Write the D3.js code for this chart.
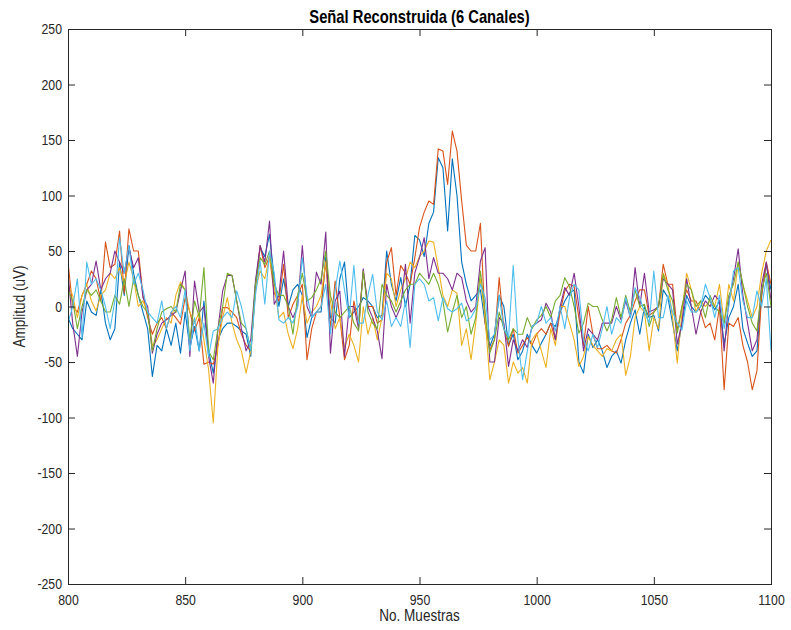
<!DOCTYPE html>
<html>
<head>
<meta charset="utf-8">
<title>Señal Reconstruida</title>
<script src="https://cdn.jsdelivr.net/npm/d3@7"></script>
<style>
    body { margin: 0; background: #ffffff; }
    text { font-family: "Liberation Sans", Arial, sans-serif; }
</style>
</head>
<body>
<svg id="chart" width="791" height="630"></svg>
<script>
/*globals d3*/

// Muestras 800..1100, una cada dos
var muestras = d3.range(800, 1101, 2);

var canal1 = [
    -10, -20, -25, -30, 5, -5, -8, 15, -15, -30,
    -20, 40, 10, 55, 30, 10, -5, -20, -63, -35,
    -40, -20, -35, -15, -42, -5, -37, -18, -40, 5,
    -40, -60, -30, -20, -15, -15, -18, -22, -25, -45,
    20, 53, 45, 65, 25, 0, 25, 0, 15, 20,
    10, -28, -10, -5, -5, 45, -10, -15, 25, 40,
    -10, -5, 0, 8, 5, 0, -10, -8, 50, 20,
    5, 26, 0, 20, 64, 60, 45, 75, 85, 134,
    125, 68, 133, 100, 40, 20, 5, 10, 15, -15,
    -36, -25, 10, 0, -35, -25, -48, -40, -25, -35,
    -42, -33, -25, -15, -18, -5, 5, 12, 15, -50,
    -60, -25, -37, -30, -40, -55, -45, -40, -51, -30,
    -15, -3, -25, 0, -10, -8, -22, 15, 8, -15,
    -40, -15, 10, 0, -5, 0, 10, 5, -3, 5,
    -34, -10, 0, 20, -20, -33, -45, -40, 10, 38,
    15
];

var canal2 = [
    40, 0, -5, 10, 20, 32, 25, 5, 58, 35,
    38, 68, 12, 70, 50, 50, 10, -10, -25, -15,
    -10, -20, -5, -10, -16, 8, -5, -22, -10, -52,
    -50, -52, -35, -1, -1, -5, -10, -25, -35, -40,
    15, 55, 35, 45, 12, 5, 38, -10, 2, 10,
    20, -48, -20, -5, 0, 41, -20, 23, -10, -48,
    -35, 5, -15, 32, 0, 0, -15, -12, 40, 53,
    10, 37, 30, 20, 44, 71, 85, 95, 92, 142,
    140, 110, 158, 140, 95, 55, 50, 50, 75, -15,
    -39, -30, 26, -20, -36, -20, -42, -35, -28, -35,
    -25, -20, -25, -15, -30, -5, 14, 20, 18, -10,
    -35, 0, -25, -38, -38, -35, -40, -42, -30, -15,
    -8, 5, 15, 15, -8, -5, 0, 38, 20, 20,
    -22, 0, 15, 5, 5, -5, -19, -15, -30, 0,
    -75, -15, -18, -10, -35, -50, -75, -58, 10, 40,
    20
];

var canal3 = [
    20, 10, -10, 10, 20, 5, -4, 10, 15, 30,
    25, 35, 20, 40, 25, 0, 5, -5, -35, -30,
    -20, -10, -15, 10, 22, 15, -5, -15, -5, -30,
    -57, -105, -35, -10, 8, -15, -30, -40, -60, -40,
    15, 32, 25, 45, 20, -10, -5, -25, -38, -20,
    10, -15, -5, 0, 10, 40, 5, -20, -10, -37,
    -25, -35, -50, 0, -25, -10, -30, -10, 30, 25,
    0, 15, 25, 40, 35, 45, 50, 59, 58, 35,
    10, 0, 15, 12, -35, -20, -48, -15, 25, -10,
    -66, -50, -30, -35, -69, -50, -60, -55, -69, -30,
    -24, -40, -55, -20, -35, 0, 0, -15, -30, -54,
    -45, -27, -35, -40, -45, -38, -40, -30, -25, -62,
    -45, -10, 0, -5, -40, -10, -20, 30, 20, -10,
    -51, -5, 30, 15, -5, 5, 0, 5, 0, 20,
    -15, 20, 5, 40, 20, 5, -10, 0, 30, 50,
    60
];

var canal4 = [
    29, -15, -45, -5, 15, 20, 41, 15, 25, 30,
    50, 40, 30, 53, 35, 44, 8, 0, -42, -25,
    -15, -12, -8, -5, 14, 32, -45, 23, -5, 0,
    -45, -69, -20, 14, 28, 28, 5, -20, -40, -30,
    23, 55, 40, 77, 2, 10, 50, 0, -10, 0,
    55, 0, -10, 31, 20, 67, -42, 5, 14, -45,
    0, 0, -20, 34, 0, -10, -22, -47, 20, 0,
    -10, 0, 38, -15, 30, 44, 62, 25, 44, 30,
    30, 25, 15, 30, 26, 5, -5, 0, 41, 53,
    -50, -50, -10, -15, -54, -30, -40, -30, -37, -18,
    -15, -12, 3, -5, -30, 0, 17, 10, 30, 0,
    -40, -20, -25, -30, -15, -15, -15, 0, -12, 5,
    -10, 35, 0, 30, -5, -3, 0, 25, 20, 15,
    -34, -15, 25, 0, -25, -5, 5, 0, 10, 5,
    -40, 5, 25, 52, 10, -15, -40, -30, 20, 40,
    5
];

var canal5 = [
    15, 5, -20, 0, 15, 10, 15, 5, -5, -5,
    10, 2, 25, 0, 25, 10, 0, -5, -40, -20,
    -5, -2, 0, -5, 20, 15, -30, 5, -10, 35,
    -40, -48, -20, 0, 30, 28, 5, -15, -20, -40,
    20, 44, 38, 50, 20, 10, 10, 0, -25, 10,
    30, 5, 8, 15, 25, 50, 10, -5, -10, -5,
    0, -15, -22, 32, -5, -15, -20, 20, 10, 5,
    -5, 5, 15, 20, 20, 30, 25, 20, 30, 20,
    5, -23, -5, 10, -10, 0, -25, -10, 32, -5,
    -42, -30, -5, -20, -30, -20, -25, -25, -10, -20,
    -12, -8, 0, -10, 5, 10, 26, 18, 0, -24,
    -15, 3, 0, 0, -12, -22, -12, 8, -10, 10,
    -5, 15, 0, 2, -18, -5, 0, 29, 15, 5,
    -24, 0, 20, 15, 0, 5, -10, 10, 0, -5,
    -15, 10, 20, 40, 20, 0, -15, -22, 15, 30,
    0
];

var canal6 = [
    -15, 0, 25, -28, 40, 20, 25, 15, 0, -20,
    5, 62, 30, 55, 20, 30, 15, -5, -10, -15,
    5, -20, -5, 0, -10, 15, -40, -10, -40, -15,
    -45, -22, -20, -10, -5, -10, 14, 0, -20, -40,
    10, 41, 2, 50, 30, -12, -15, -10, -15, 0,
    44, 10, -10, -5, 0, 20, -25, 15, 41, 15,
    -10, 37, -15, -15, 10, 29, -5, -12, 5, -18,
    -10, -18, 5, -37, 20, 25, 20, 5, 8, -13,
    8, -2, -5, -2, 3, -13, -10, -2, 20, 8,
    -30, -25, 10, -20, -28, 37, -30, -66, -40, -18,
    -15, 0, -15, -10, -22, 0, -20, 8, 20, 15,
    -30, -40, -25, -37, -20, 0, -25, -10, -15, 8,
    -10, 17, 8, -5, -15, 32, -10, -10, 10, -5,
    -15, -21, 5, -5, -5, 0, 20, 8, -10, 10,
    -20, 0, 32, 35, 5, -10, -10, 14, 0, 25,
    -40
];

var canales = [canal1, canal2, canal3, canal4, canal5, canal6];
var colores = ["#0072bd", "#d95319", "#edb120", "#7e2f8e", "#77ac30", "#4dbeee"];

var ticksX = [800, 850, 900, 950, 1000, 1050, 1100];
var ticksY = [-250, -200, -150, -100, -50, 0, 50, 100, 150, 200, 250];

var svg = d3.select("#chart");

// plot box in pixels
var xIzq = 68, xDer = 771, yArr = 29, yAba = 584;
var ejeColor = "#262626";
var estrecho = 0.82;   // narrow look for the Helvetica-style labels

var x = d3.scaleLinear().domain([800, 1100]).range([xIzq, xDer]);
var y = d3.scaleLinear().domain([-250, 250]).range([yAba, yArr]);

svg.append("clipPath")
    .attr("id", "area")
    .append("rect")
    .attr("x", xIzq)
    .attr("y", yArr)
    .attr("width", xDer - xIzq)
    .attr("height", yAba - yArr);

// one line per channel, drawn in column order
var linea = d3.line()
    .x(function (d, i) { return x(muestras[i]); })
    .y(function (d) { return y(d); });

svg.append("g")
    .attr("clip-path", "url(#area)")
    .selectAll("path")
    .data(canales)
    .enter()
    .append("path")
    .attr("d", linea)
    .attr("fill", "none")
    .attr("stroke", function (d, i) { return colores[i]; })
    .attr("stroke-width", 1.1)
    .attr("stroke-linejoin", "round");

// axes: ticks point inwards on all four sides
function estilo(g, conTexto) {
    g.attr("font-family", null);
    g.select(".domain").remove();
    g.selectAll(".tick line").attr("stroke", ejeColor);
    if (!conTexto) {
        g.selectAll(".tick text").remove();
        return;
    }
    g.selectAll(".tick text")
        .attr("fill", ejeColor)
        .attr("font-size", 15)
        .each(function () {
            var t = d3.select(this);
            var tx = +t.attr("x") || 0;
            t.attr("x", tx / estrecho)
                .attr("transform", "scale(" + estrecho + ",1)");
        });
}

var fmt = function (d) { return String(d); };

svg.append("g")
    .attr("transform", "translate(0," + yAba + ")")
    .call(d3.axisBottom(x).tickValues(ticksX).tickFormat(fmt)
        .tickSizeInner(-7).tickSizeOuter(0).tickPadding(10))
    .call(estilo, true);

svg.append("g")
    .attr("transform", "translate(0," + yArr + ")")
    .call(d3.axisTop(x).tickValues(ticksX).tickSizeInner(-7).tickSizeOuter(0))
    .call(estilo, false);

svg.append("g")
    .attr("transform", "translate(" + xIzq + ",0)")
    .call(d3.axisLeft(y).tickValues(ticksY).tickFormat(fmt)
        .tickSizeInner(-7).tickSizeOuter(0).tickPadding(6))
    .call(estilo, true);

svg.append("g")
    .attr("transform", "translate(" + xDer + ",0)")
    .call(d3.axisRight(y).tickValues(ticksY).tickSizeInner(-7).tickSizeOuter(0))
    .call(estilo, false);

svg.append("rect")
    .attr("x", xIzq + 0.5)
    .attr("y", yArr + 0.5)
    .attr("width", xDer - xIzq)
    .attr("height", yAba - yArr)
    .attr("fill", "none")
    .attr("stroke", ejeColor)
    .attr("stroke-width", 1);

// labels, squeezed horizontally around their anchor point
function rotulo(px, py, giro, txt, size, peso, color) {
    svg.append("text")
        .attr("transform", "translate(" + px + "," + py + ") rotate(" + giro + ") scale(" + estrecho + ",1)")
        .attr("text-anchor", "middle")
        .attr("font-size", size)
        .attr("font-weight", peso)
        .attr("fill", color)
        .text(txt);
}

rotulo((xIzq + xDer) / 2, 23, 0, "Señal Reconstruida (6 Canales)", 18, "bold", "#000000");
rotulo((xIzq + xDer) / 2, 621, 0, "No. Muestras", 16.5, "normal", ejeColor);
rotulo(25, (yArr + yAba) / 2, -90, "Amplitud (uV)", 16.5, "normal", ejeColor);
</script>
</body>
</html>
